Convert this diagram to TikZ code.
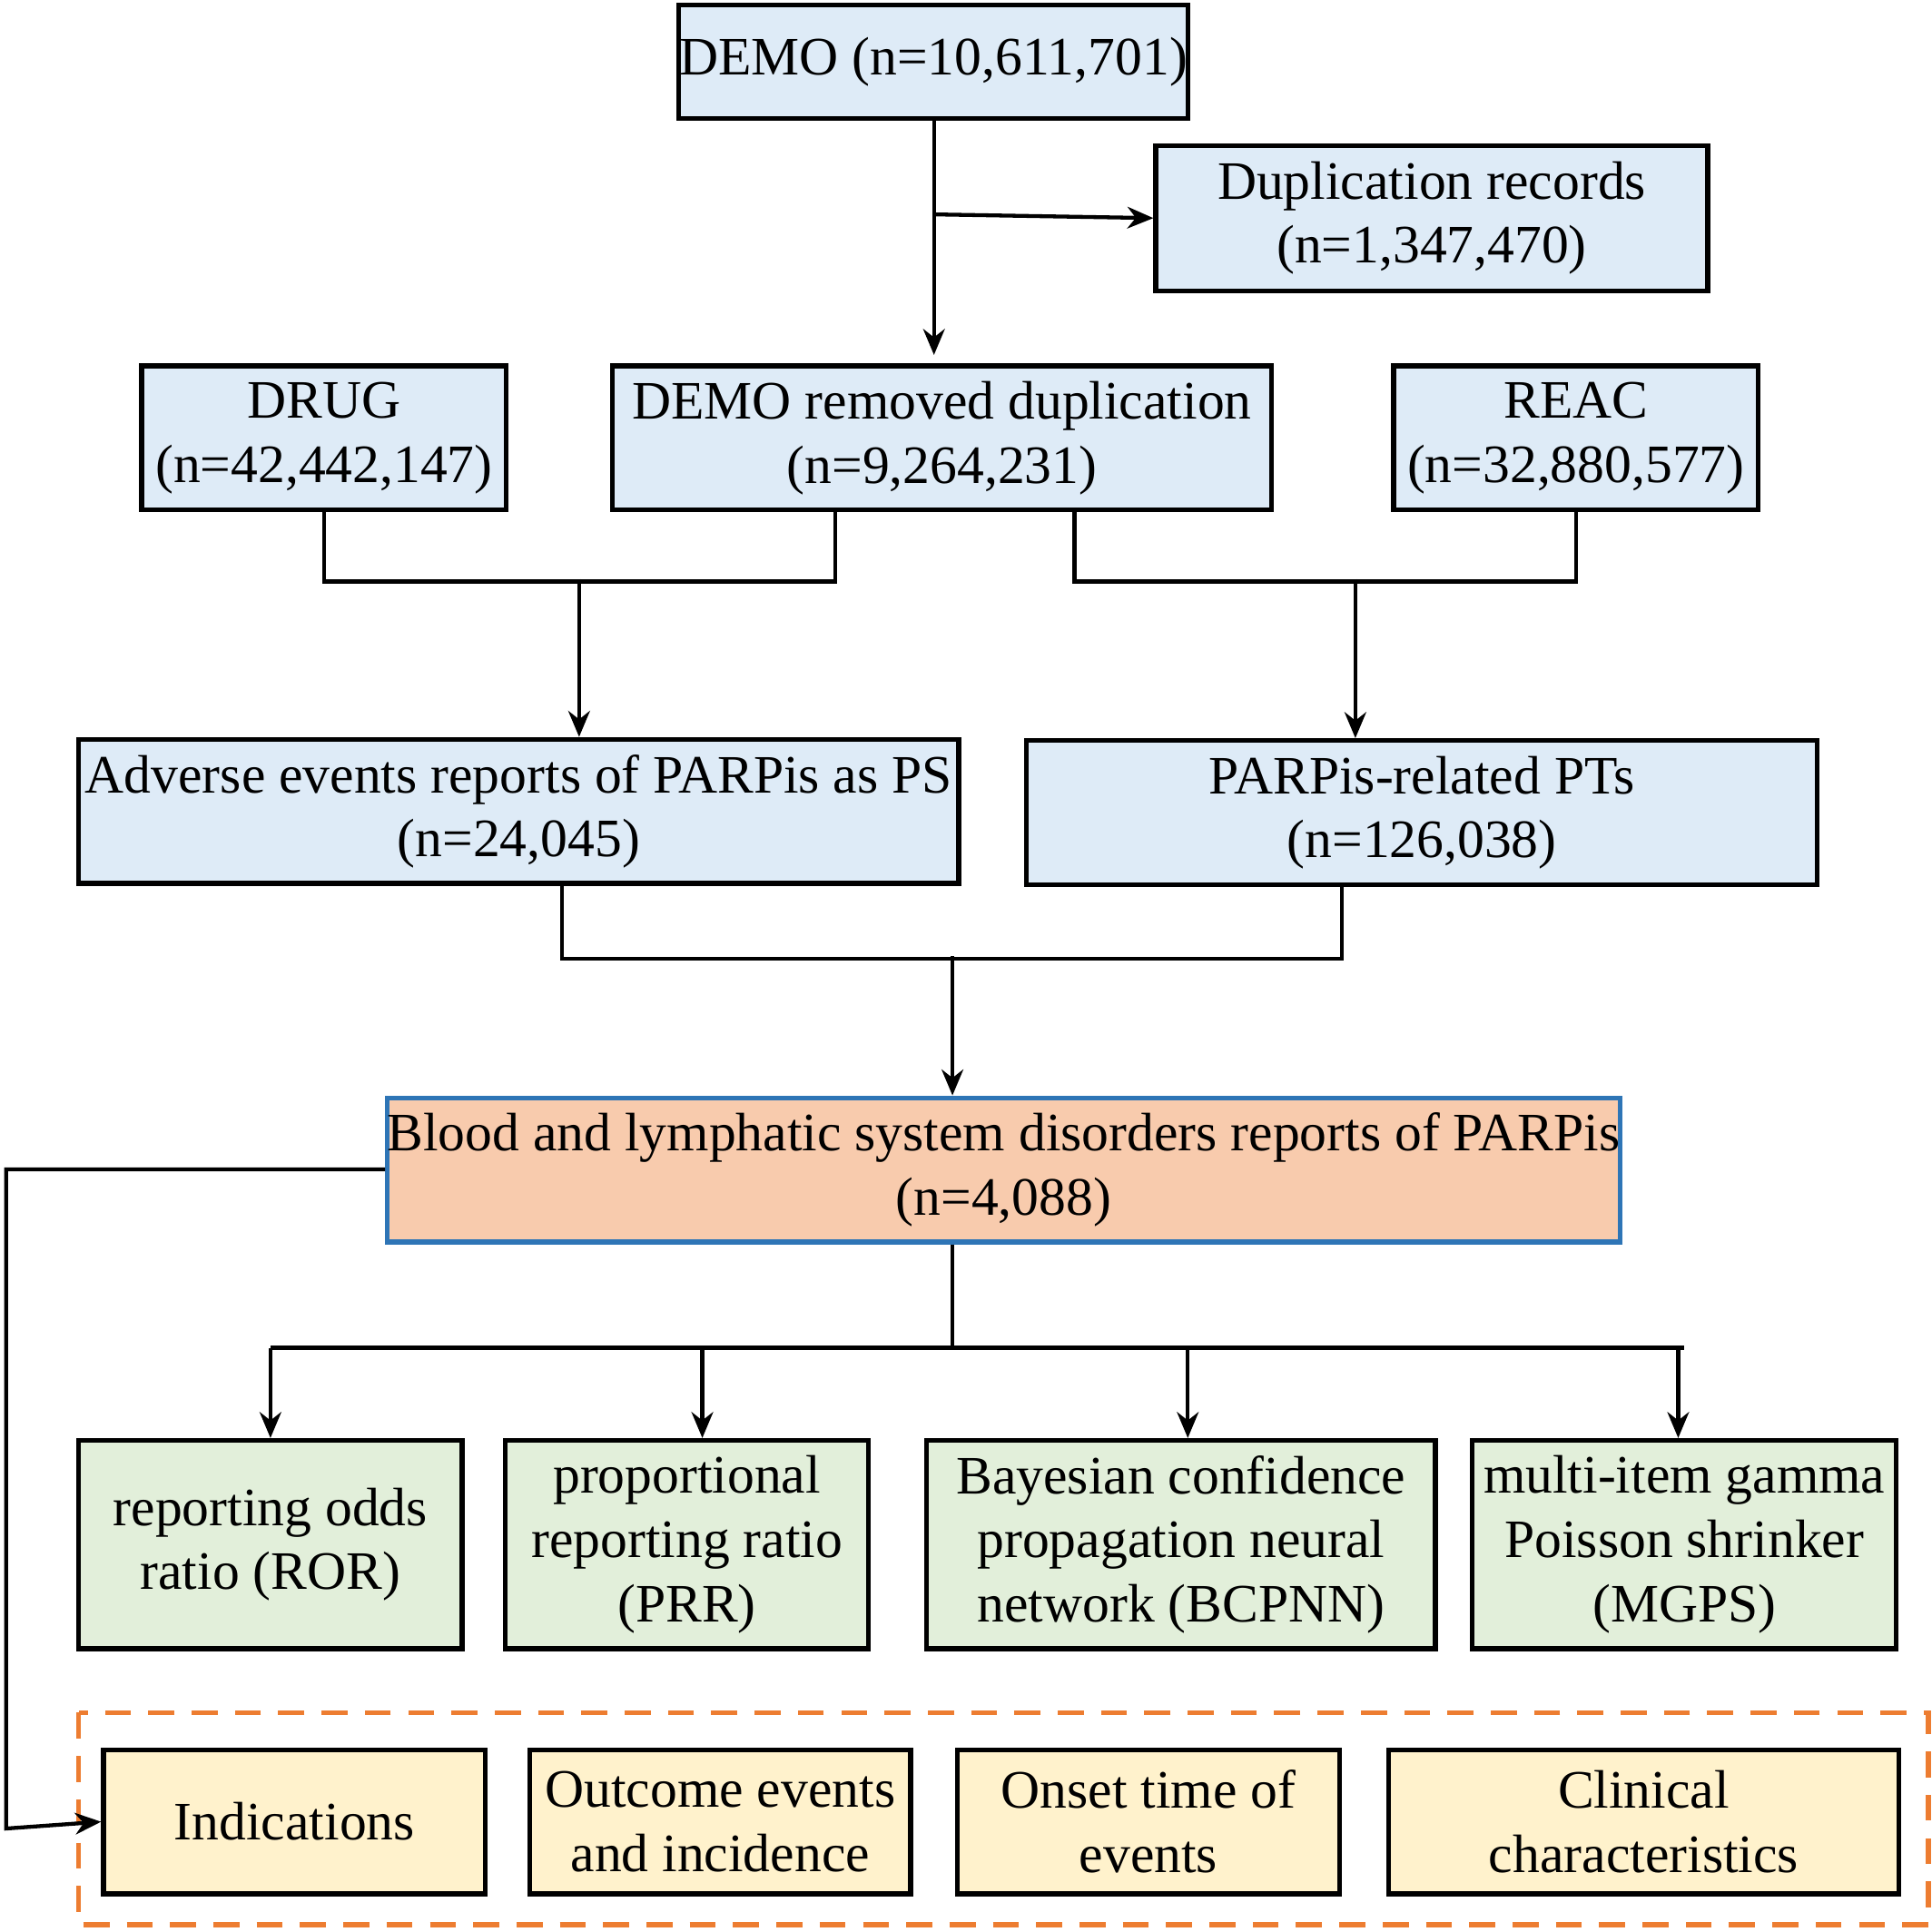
\documentclass[tikz,border=0pt]{standalone}
\usepackage{fontspec}
\setmainfont{Liberation Serif}
\usetikzlibrary{arrows.meta}
\definecolor{boxblue}{HTML}{DEEBF7}
\definecolor{boxgreen}{HTML}{E2EFDA}
\definecolor{boxorange}{HTML}{F8CBAD}
\definecolor{boxyellow}{HTML}{FFF2CC}
\definecolor{dashorange}{HTML}{ED7D31}
\definecolor{edgeblue}{HTML}{2E75B6}
\tikzset{
  box/.style={draw=black, line width=1.1pt, align=center, inner sep=0pt,
    font=\fontsize{12.5}{14.8}\selectfont},
  arr/.style={-{Stealth[length=6pt,width=5pt]}, line width=0.9pt},
  ln/.style={line width=0.9pt}
}
\begin{document}
\begin{tikzpicture}
		\useasboundingbox (0,0) rectangle (15.68,-15.68);
		% first rows
		\node[box, fill=boxblue, minimum width=4.13cm, minimum height=0.92cm] at (7.575,-0.50) (demo) {DEMO (n=10,611,701)};
		\node[box, fill=boxblue, minimum width=4.48cm, minimum height=1.18cm] at (11.62,-1.77) (dup) {Duplication records\\(n=1,347,470)};
		\node[box, fill=boxblue, minimum width=2.96cm, minimum height=1.17cm] at (2.63,-3.555) (drug) {DRUG\\(n=42,442,147)};
		\node[box, fill=boxblue, minimum width=5.35cm, minimum height=1.17cm] at (7.645,-3.555) (rem) {DEMO removed duplication\\(n=9,264,231)};
		\node[box, fill=boxblue, minimum width=2.96cm, minimum height=1.17cm] at (12.79,-3.555) (reac) {REAC\\(n=32,880,577)};
		\node[box, fill=boxblue, minimum width=7.14cm, minimum height=1.17cm] at (4.21,-6.585) (ae) {Adverse events reports of PARPis as PS\\(n=24,045)};
		\node[box, fill=boxblue, minimum width=6.42cm, minimum height=1.17cm] at (11.54,-6.595) (pt) {PARPis-related PTs\\(n=126,038)};
		\node[box, draw=edgeblue, fill=boxorange, minimum width=9.93cm, minimum height=1.17cm] at (8.145,-9.495) (blood) {Blood and lymphatic system disorders reports of PARPis\\(n=4,088)};
		% methods
		\node[box, fill=boxgreen, minimum width=3.11cm, minimum height=1.69cm] at (2.195,-12.535) (ror) {reporting odds\\ratio (ROR)};
		\node[box, fill=boxgreen, minimum width=2.95cm, minimum height=1.69cm] at (5.575,-12.535) (prr) {proportional\\reporting ratio\\(PRR)};
		\node[box, fill=boxgreen, minimum width=4.13cm, minimum height=1.69cm] at (9.585,-12.535) (bcpnn) {Bayesian confidence\\propagation neural\\network (BCPNN)};
		\node[box, fill=boxgreen, minimum width=3.44cm, minimum height=1.69cm] at (13.67,-12.535) (mgps) {multi-item gamma\\Poisson shrinker\\(MGPS)};
		% analyses
		\draw[dashorange, line width=1.1pt, dash pattern=on 6pt off 4pt] (0.64,-13.90) rectangle (15.65,-15.62);
		\node[box, fill=boxyellow, minimum width=3.10cm, minimum height=1.17cm] at (2.39,-14.785) (ind) {Indications};
		\node[box, fill=boxyellow, minimum width=3.09cm, minimum height=1.17cm] at (5.845,-14.785) (out) {Outcome events\\and incidence};
		\node[box, fill=boxyellow, minimum width=3.10cm, minimum height=1.17cm] at (9.32,-14.785) (onset) {Onset time of\\events};
		\node[box, fill=boxyellow, minimum width=4.14cm, minimum height=1.17cm] at (13.34,-14.785) (clin) {Clinical\\characteristics};
		% connectors
		\coordinate (split) at (7.58,-1.74);
		\draw[arr] (demo.south -| split) -- ([yshift=0.07cm]rem.north -| split);
		\draw[arr] (split) -- (dup.west);
		\draw[ln] (drug.south) -- ++(0,-0.56) coordinate (dl) -| ([xshift=-0.865cm]rem.south);
		\coordinate (dm) at (4.70,-4.70);
		\draw[arr] (dm) -- (dm |- ae.north);
		\draw[ln] ([xshift=1.075cm]rem.south) -- ++(0,-0.56) coordinate (dr) -| (reac.south);
		\coordinate (dn) at (11.00,-4.70);
		\draw[arr] (dn) -- (dn |- pt.north);
		\draw[ln] ([xshift=0.35cm]ae.south) -- ++(0,-0.59) coordinate (el) -| ([xshift=-0.65cm]pt.south);
		\coordinate (em) at (7.73,-7.76);
		\draw[arr] (em) -- (em |- blood.north);
		\draw[ln] ([xshift=-0.415cm]blood.south) -- ++(0,-0.84) coordinate (bl);
		\draw[ln] (bl -| ror.north) -- (bl -| mgps.north);
		\coordinate (tprr) at ([xshift=0.125cm]prr.north);
		\coordinate (tbc) at ([xshift=0.055cm]bcpnn.north);
		\coordinate (tmg) at ([xshift=-0.05cm]mgps.north);
		\draw[arr] (bl -| ror.north) -- (ror.north);
		\draw[arr] (bl -| tprr) -- (tprr);
		\draw[arr] (bl -| tbc) -- (tbc);
		\draw[arr] (bl -| tmg) -- (tmg);
		\draw[arr] ([yshift=0.005cm]blood.west) -| (0.05,-14.84) -- (ind.west);
\end{tikzpicture}
\end{document}
